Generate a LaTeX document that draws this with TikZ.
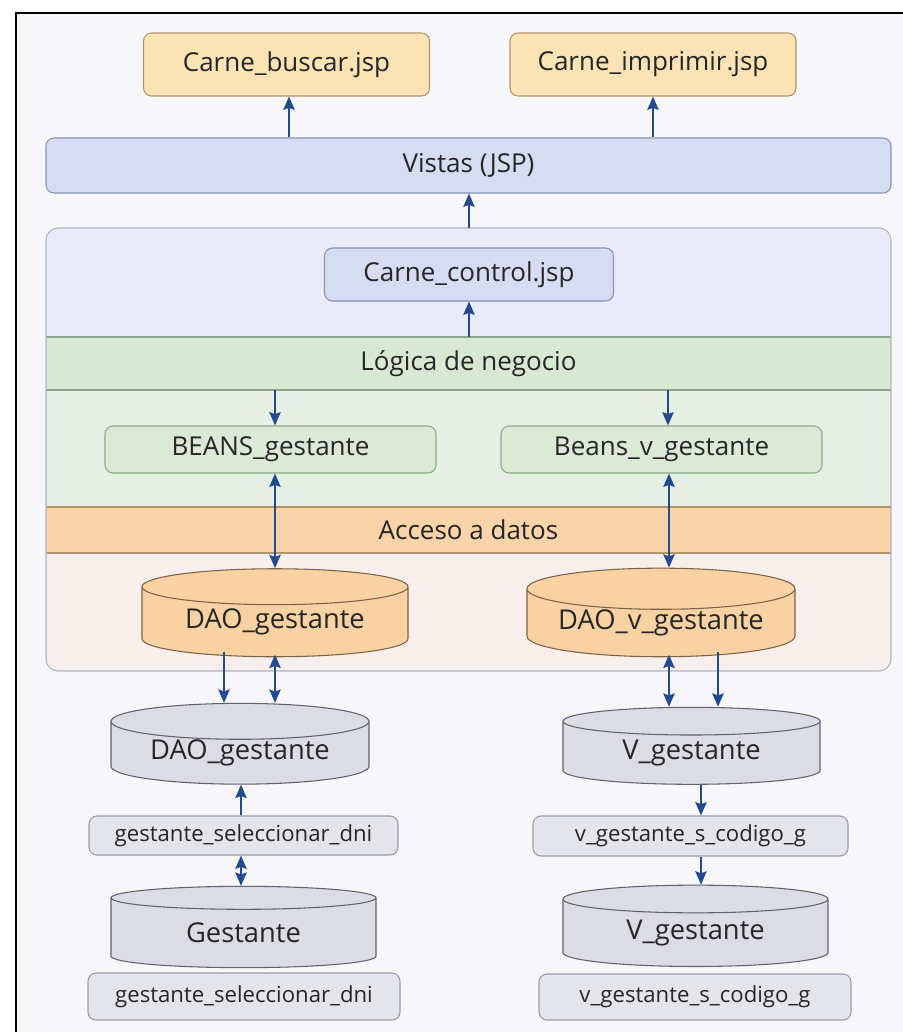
\documentclass[tikz,border=0pt]{standalone}
\usepackage{fontspec}
\setmainfont{Open Sans}
\usetikzlibrary{shapes.geometric,arrows.meta}
\definecolor{arrblue}{HTML}{234A8C}
\definecolor{txtgray}{HTML}{262626}
\definecolor{pagebg}{HTML}{F7F7F9}
\definecolor{jspfill}{HTML}{FBE3B6}
\definecolor{jspline}{HTML}{B0956A}
\definecolor{viewfill}{HTML}{D6DDF3}
\definecolor{viewline}{HTML}{8893B5}
\definecolor{ctlarea}{HTML}{E9ECF8}
\definecolor{logband}{HTML}{D7E9D3}
\definecolor{logarea}{HTML}{E5EFE3}
\definecolor{beanfill}{HTML}{DAEAD6}
\definecolor{beanline}{HTML}{8EA88B}
\definecolor{accband}{HTML}{F9D3A9}
\definecolor{accarea}{HTML}{F8EEEB}
\definecolor{daofill}{HTML}{F9D2A4}
\definecolor{daoline}{HTML}{7D6246}
\definecolor{dbfill}{HTML}{DCDCE5}
\definecolor{dbline}{HTML}{62626E}
\definecolor{qfill}{HTML}{E4E4EB}
\definecolor{qline}{HTML}{9C9CA8}
\definecolor{panelline}{HTML}{AEB3C6}

\begin{document}
\begin{tikzpicture}[x=0.75pt,y=0.75pt,yscale=-1,xscale=1,
		lbl/.style={text=txtgray,font=\fontsize{19.5}{21}\selectfont,inner sep=0pt},
		smalllbl/.style={text=txtgray,font=\fontsize{16.6}{18}\selectfont,inner sep=0pt},
		jspbox/.style={lbl,draw=jspline,fill=jspfill,rounded corners=6pt,line width=0.8pt},
		viewbox/.style={lbl,draw=viewline,fill=viewfill,rounded corners=6pt,line width=0.8pt},
		beanbox/.style={lbl,draw=beanline,fill=beanfill,rounded corners=6pt,line width=0.8pt},
		qbox/.style={smalllbl,draw=qline,fill=qfill,rounded corners=6pt,line width=0.8pt},
		daocyl/.style={lbl,font=\fontsize{20.5}{22}\selectfont,cylinder,shape border rotate=90,aspect=0.2,draw=daoline,fill=daofill,line width=0.8pt},
		dbcyl/.style={lbl,font=\fontsize{20.5}{22}\selectfont,cylinder,shape border rotate=90,aspect=0.2,draw=dbline,fill=dbfill,line width=0.8pt},
		arr/.style={draw=arrblue,line width=1.5pt,-{Stealth[length=10pt,width=8.5pt,inset=1.5pt]}},
		dblarr/.style={draw=arrblue,line width=1.5pt,{Stealth[length=10pt,width=8.5pt,inset=1.5pt]}-{Stealth[length=10pt,width=8.5pt,inset=1.5pt]}}]
		\useasboundingbox (0,0) rectangle (903,1032);
		\fill[white] (0,0) rectangle (903,1032);
		\fill[pagebg] (16,13) rectangle (903,1032);
		\draw[black,line width=1.5pt] (16,1032) -- (16,13) -- (903,13);
		\begin{scope}
		\clip[rounded corners=9pt] (46,228) rectangle (891,671);
		\fill[ctlarea] (46,228) rectangle (891,337);
		\fill[logband] (46,337) rectangle (891,390);
		\fill[logarea] (46,390) rectangle (891,507);
		\fill[accband] (46,507) rectangle (891,553);
		\fill[accarea] (46,553) rectangle (891,671);
		\end{scope}
		\draw[beanline,line width=0.8pt] (46,337) -- (891,337) (46,390) -- (891,390);
		\draw[jspline,line width=0.8pt] (46,507) -- (891,507) (46,553) -- (891,553);
		\draw[panelline,line width=0.8pt,rounded corners=9pt] (46,228) rectangle (891,671);
		\node[jspbox,minimum width=214.5pt,minimum height=47.25pt] (buscar) at (286.5,64.5) {Carne\_buscar.jsp};
		\node[jspbox,minimum width=214.5pt,minimum height=47.25pt] (imprimir) at (653,64.5) {Carne\_imprimir.jsp};
		\node[viewbox,minimum width=633.75pt,minimum height=41.25pt] (vistas) at (468.5,165.5) {Vistas (JSP)};
		\node[viewbox,minimum width=216.75pt,minimum height=39.75pt] (control) at (469,274.5) {Carne\_control.jsp};
		\node[lbl] (logica) at (468.5,363.5) {Lógica de negocio};
		\node[beanbox,minimum width=248.25pt,minimum height=35.25pt] (beansg) at (270.5,449.5) {BEANS\_gestante};
		\node[beanbox,minimum width=240.75pt,minimum height=35.25pt] (beansv) at (661.5,449.5) {Beans\_v\_gestante};
		\node[lbl] (acceso) at (468.5,530) {Acceso a datos};
		\node[daocyl,minimum width=199.5pt,minimum height=66pt] (daog) at (275,622) {DAO\_gestante};
		\node[daocyl,minimum width=201pt,minimum height=65pt] (daov) at (661,623) {DAO\_v\_gestante};
		\node[dbcyl,minimum width=193.5pt,minimum height=57.75pt] (dbdao) at (240,753) {DAO\_gestante};
		\node[dbcyl,minimum width=192.75pt,minimum height=57.75pt] (dbvg) at (691.5,753) {V\_gestante};
		\node[qbox,minimum width=231.75pt,minimum height=29.25pt] (selg) at (243.5,835.5) {gestante\_seleccionar\_dni};
		\node[qbox,minimum width=236.25pt,minimum height=30pt] (codv) at (690.5,836) {v\_gestante\_s\_codigo\_g};
		\node[dbcyl,minimum width=198.75pt,minimum height=61pt] (tabg) at (243.5,933) {Gestante};
		\node[dbcyl,minimum width=198.75pt,minimum height=61pt] (tabv) at (695.5,933) {V\_gestante};
		\node[qbox,minimum width=234pt,minimum height=35.25pt] (selg2) at (244,996.5) {gestante\_seleccionar\_dni};
		\node[qbox,minimum width=234pt,minimum height=34.5pt] (codv2) at (695,997) {v\_gestante\_s\_codigo\_g};
		\coordinate (ptop) at (469,228);
		\coordinate (lgtop) at (469,337);
		\coordinate (lgbotg) at (275,390);
		\coordinate (lgbotv) at (668,390);
		\draw[arr] (vistas.north -| 289,0) -- (buscar.south -| 289,0);
		\draw[arr] (vistas.north -| imprimir.south) -- (imprimir.south);
		\draw[arr] (ptop) -- (vistas.south -| ptop);
		\draw[arr] (lgtop) -- (control.south -| lgtop);
		\draw[arr] (lgbotg) -- (beansg.north -| lgbotg);
		\draw[arr] (lgbotv) -- (beansv.north -| lgbotv);
		\draw[dblarr] (beansg.south -| daog.north) -- (daog.north);
		\draw[dblarr] (beansv.south -| 669,0) -- (daov.north -| 669,0);
		\draw[arr] ([yshift=-4pt]daog.south -| 224,0) -- (dbdao.north -| 224,0);
		\draw[dblarr] ([yshift=-2pt]daog.south) -- (dbdao.north -| daog.south);
		\draw[dblarr] ([yshift=-2pt]daov.south -| 669,0) -- (dbvg.north -| 669,0);
		\draw[arr] ([yshift=-4pt]daov.south -| 718,0) -- (dbvg.north -| 718,0);
		\draw[arr] (selg.north -| 241,0) -- (dbdao.south -| 241,0);
		\draw[dblarr] (selg.south -| 241,0) -- (tabg.north -| 241,0);
		\draw[arr] (dbvg.south -| 701,0) -- (codv.north -| 701,0);
		\draw[arr] (codv.south -| 701,0) -- (tabv.north -| 701,0);
\end{tikzpicture}
\end{document}
